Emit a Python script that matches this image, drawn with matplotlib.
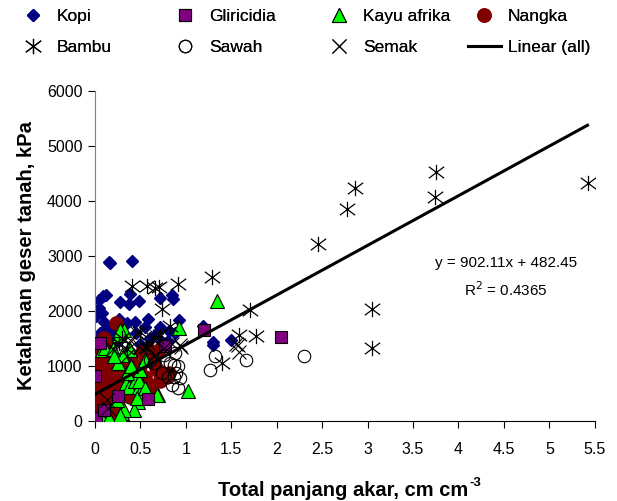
import matplotlib
matplotlib.use("Agg")
import matplotlib.pyplot as plt
import numpy as np
from matplotlib.path import Path

plt.rcParams['font.family'] = ['Liberation Sans', 'DejaVu Sans']

# --- data (x: total root length, y: shear strength kPa)
kopi_x = [0.17, 0.41, 0.09, 0.12, 0.27, 0.37, 0.39, 0.48, 0.04, 0.08, 0.10, 0.06, 0.35, 0.72,
          0.72, 0.85, 0.86, 0.92, 0.81, 1.30, 1.30, 1.50, 1.19, 0.65, 0.74, 0.02, 0.03, 0.05,
          0.02, 0.08, 0.15, 0.20, 0.25, 0.30, 0.45, 0.55, 0.60, 0.50, 0.15, 0.03, 0.05, 0.02,
          0.10, 0.20, 0.40, 0.62, 0.80, 0.88, 0.68, 0.58, 0.44, 0.26, 0.13, 0.01, 0.04, 0.15]
kopi_y = [2870, 2900, 2260, 2280, 2160, 2130, 2310, 2180, 2050, 1960, 1800, 1600, 1780, 2240,
          1710, 2290, 2220, 1840, 1640, 1440, 1380, 1470, 1730, 1260, 1440, 1450, 1300, 1150,
          1000, 1400, 1500, 1650, 1450, 1550, 1600, 1700, 1500, 1400, 1200, 700, 500, 300,
          900, 1000, 1250, 1050, 1450, 1600, 1600, 1850, 1800, 1850, 1700, 1900, 2200, 2880]

glir_x = [0.05, 0.00, 0.77, 1.20, 2.05, 0.58, 0.01, 0.10, 0.25]
glir_y = [1410, 820, 1360, 1650, 1530, 400, 60, 200, 450]

kayu_x = [1.34, 1.02, 0.92, 0.69, 0.47, 0.43, 0.30, 0.08, 0.26, 0.32, 0.37, 0.25, 0.34, 0.37,
          0.48, 0.50, 0.47, 0.11, 0.39, 0.44, 0.48, 0.46, 0.32, 0.68, 0.55, 0.24, 0.35, 0.50,
          0.28, 0.27, 0.05, 0.02, 0.15, 0.40, 0.30, 0.20, 0.55, 0.21]
kayu_y = [2170, 550, 1690, 470, 350, 200, 140, 1290, 1560, 1650, 1330, 1050, 690, 620,
          620, 510, 800, 1320, 1290, 715, 715, 420, 200, 470, 590, 380, 870, 930,
          1650, 110, 100, 30, 50, 1000, 1200, 1300, 1100, 1170]

nangka_x = [0.23, 0.70, 0.72, 0.61, 0.81, 0.56, 0.67, 0.65, 0.70, 0.72, 0.78, 0.02, 0.03, 0.05,
            0.04, 0.06, 0.08, 0.10, 0.12, 0.03, 0.05, 0.15, 0.18, 0.20, 0.22, 0.10, 0.12, 0.07,
            0.25, 0.28, 0.30, 0.16, 0.20, 0.08, 0.01, 0.02, 0.14, 0.18, 0.25, 0.30, 0.35, 0.40,
            0.45, 0.50, 0.55, 0.60, 0.32, 0.10, 0.15, 0.05, 0.40, 0.62, 0.52, 0.58, 0.09, 0.20,
            0.04, 0.13, 0.06, 0.39, 0.68, 0.32, 0.39, 0.10, 0.01, 0.03, 0.08, 0.14]
nangka_y = [1770, 1290, 715, 470, 870, 1110, 960, 1050, 900, 745, 800, 50, 150, 250,
            400, 550, 700, 850, 1000, 900, 1050, 600, 750, 500, 350, 300, 150, 80,
            600, 800, 900, 950, 1100, 1150, 600, 750, 400, 250, 200, 450, 550, 650,
            900, 1000, 800, 650, 1000, 1500, 1350, 1300, 1100, 1150, 1250, 1300, 20, 30,
            10, 1050, 990, 1080, 930, 650, 440, 560, 320, 480, 420, 640]

bambu_x = [3.05, 3.05, 3.74, 3.75, 5.42, 2.86, 2.77, 2.45, 1.71, 1.77, 1.58, 1.40, 1.29, 0.91,
           0.70, 0.57, 0.41, 0.74, 0.82, 0.66, 0.26, 0.35, 0.72, 0.50, 0.56, 0.30]
bambu_y = [2040, 1330, 4070, 4530, 4330, 4240, 3850, 3220, 2020, 1545, 1560, 1050, 2620, 2490,
           2440, 2450, 2450, 2040, 1730, 2420, 1410, 1300, 1560, 1620, 1350, 1500]

sawah_x = [1.32, 1.26, 1.66, 2.30, 0.89, 0.93, 0.85, 0.91, 0.82, 0.87, 0.74, 0.91, 0.87, 0.60,
           0.65, 0.88, 0.76, 0.80]
sawah_y = [1170, 930, 1110, 1170, 870, 780, 650, 600, 1050, 1020, 870, 990, 800, 1110,
           1050, 1230, 1200, 800]

semak_x = [1.59, 0.95, 0.14, 0.65, 0.13, 0.57, 0.35, 0.68, 0.46, 0.28, 0.67, 0.58, 0.50, 0.63,
           1.57, 0.94, 0.40, 0.20, 0.75, 0.85, 1.55]
semak_y = [1260, 1350, 230, 1170, 380, 1350, 1170, 1530, 1590, 1380, 1470, 1410, 1350, 1500,
           1380, 1380, 1450, 1300, 1300, 1400, 1400]

slope, intercept, r2 = 902.11, 482.45, 0.4365

# Excel-style "star" marker: vertical bar plus an X
star = Path([(0, -1), (0, 1), (-1, -0.75), (1, 0.75), (-1, 0.75), (1, -0.75)],
            [Path.MOVETO, Path.LINETO, Path.MOVETO, Path.LINETO, Path.MOVETO, Path.LINETO])

fig = plt.figure(figsize=(6.17, 5.01), dpi=100)
ax = fig.add_axes([0.154, 0.160, 0.810, 0.659])

h_kopi, = ax.plot(kopi_x, kopi_y, ls='none', marker='D', ms=6.5, mfc='#000080', mec='#000080', zorder=2)
h_glir, = ax.plot(glir_x, glir_y, ls='none', marker='s', ms=9, mfc='#800080', mec='black', mew=0.8, zorder=5)
h_nang, = ax.plot(nangka_x, nangka_y, ls='none', marker='o', ms=9.5, mfc='#800000', mec='#800000', zorder=3)
h_kayu, = ax.plot(kayu_x, kayu_y, ls='none', marker='^', ms=9.5, mfc='#00ff00', mec='black', mew=0.8, zorder=4)
h_bamb, = ax.plot(bambu_x, bambu_y, ls='none', marker=star, ms=11, mfc='none', mec='black', mew=0.9, zorder=6)
h_sawa, = ax.plot(sawah_x, sawah_y, ls='none', marker='o', ms=9, mfc='none', mec='black', mew=0.8, zorder=6)
h_sema, = ax.plot(semak_x, semak_y, ls='none', marker='x', ms=10, mfc='none', mec='black', mew=0.8, zorder=6)

# trend line over the full data range
all_x = np.concatenate([kopi_x, glir_x, kayu_x, nangka_x, bambu_x, sawah_x, semak_x])
lx = np.array([0, all_x.max()])
h_lin, = ax.plot(lx, slope * lx + intercept, color='black', lw=2.2, zorder=7)

ax.text(4.52, 2870, f'y = {slope}x + {intercept}', ha='center', va='center', fontsize=11)
ax.text(4.52, 2390, f'R$^2$ = {r2}', ha='center', va='center', fontsize=11)

ax.set_xlim(0, 5.5)
ax.set_ylim(0, 6000)
ax.set_xticks(np.arange(0, 5.51, 0.5))
ax.set_xticklabels(['0', '0.5', '1', '1.5', '2', '2.5', '3', '3.5', '4', '4.5', '5', '5.5'])
ax.set_yticks(np.arange(0, 6001, 1000))
ax.tick_params(labelsize=11.5, length=5, width=0.8, direction='out', pad=10)
ax.tick_params(axis='y', pad=4)
for s in ['top', 'right']:
    ax.spines[s].set_visible(False)
ax.spines['left'].set_color('#808080')
ax.spines['bottom'].set_color('black')

xl = fig.text(343 / 617, 1 - 490 / 501, 'Total panjang akar, cm cm', fontsize=14.5,
              fontweight='bold', ha='center', va='center')
ax.annotate('-3', xy=(1.0, 0.85), xycoords=xl, xytext=(1, 0), textcoords='offset points',
            fontsize=9.5, fontweight='bold', ha='left', va='center', annotation_clip=False)
ax.set_ylabel('Ketahanan geser tanah, kPa', fontsize=14.5, fontweight='bold', labelpad=8)

# legend: four columns placed like the Excel legend
cols = [((h_kopi, 'Kopi'), (h_bamb, 'Bambu')),
        ((h_glir, 'Gliricidia'), (h_sawa, 'Sawah')),
        ((h_kayu, 'Kayu afrika'), (h_sema, 'Semak')),
        ((h_nang, 'Nangka'), (h_lin, 'Linear (all)'))]
col_x = [17, 169, 323, 468]
for (a, b), px in zip(cols, col_x):
    leg = fig.legend([a[0], b[0]], [a[1], b[1]], loc='upper left',
                     bbox_to_anchor=(px / 617, 1 - 9 / 501), frameon=False,
                     fontsize=12.5, handlelength=1.9, handletextpad=0.4,
                     borderpad=0, borderaxespad=0, labelspacing=0.9)
    fig.add_artist(leg)

fig.savefig('out.png', dpi=100)
